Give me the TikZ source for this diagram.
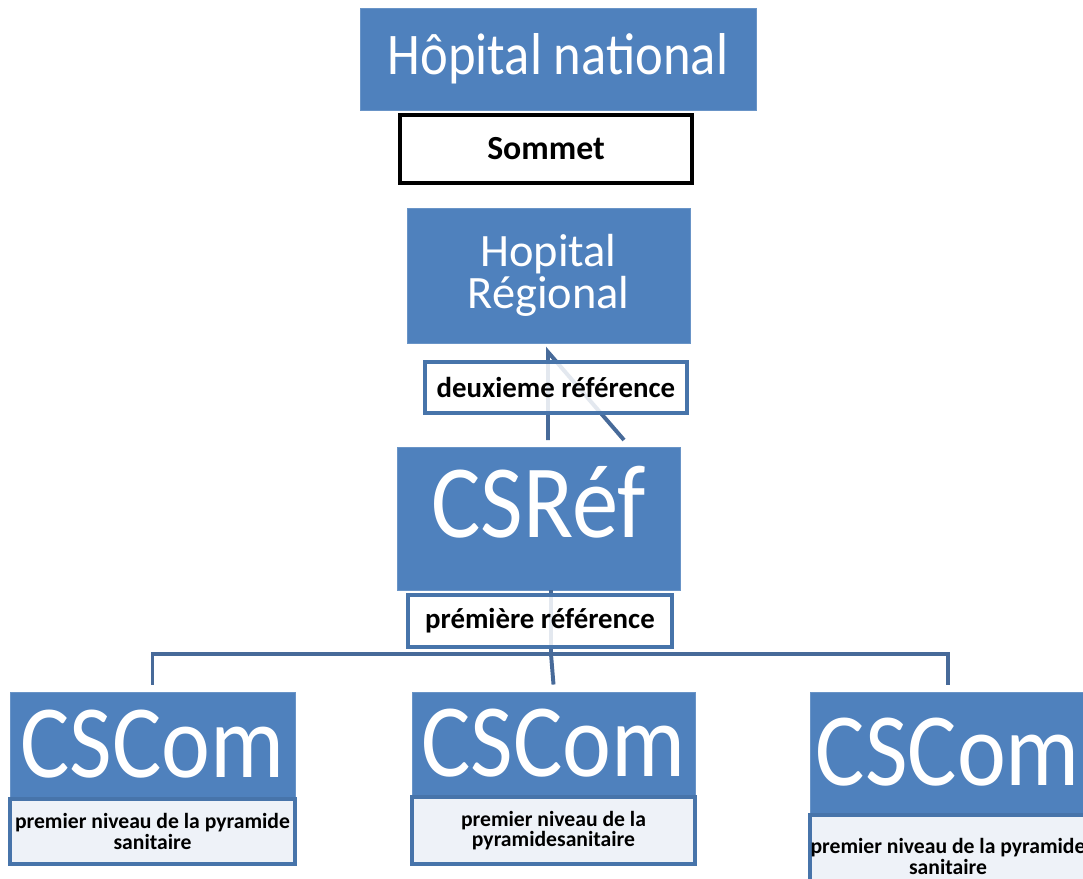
\documentclass[tikz,border=0pt]{standalone}
\usepackage{fontspec}
\setmainfont{Carlito}
\newfontfamily\tallfont{Carlito}[FakeStretch=0.89]
\usetikzlibrary{positioning}
\definecolor{boxblue}{HTML}{4F81BD}
\definecolor{linkblue}{HTML}{476A99}
\definecolor{labfill}{HTML}{EEF2F8}
\newcommand{\pw}[1]{#1*0.025cm}
\tikzset{
  bluebox/.style={fill=boxblue, draw=boxblue!85!white, line width=0.6pt, text=white, inner sep=0pt, align=center},
  refbox/.style={fill=white, fill opacity=0.85, text opacity=1, draw=boxblue!90!black, line width=2.6pt, inner sep=0pt,
    font=\bfseries\fontsize{20.5}{24}\selectfont},
  levelbox/.style={fill=labfill, draw=boxblue!90!black, line width=2.4pt, inner sep=0pt, align=center,
    font=\bfseries\fontsize{15.4}{14.8}\selectfont},
  link/.style={draw=linkblue, line width=2.8pt},
  bigtext/.style={font=\tallfont\fontsize{74}{80}\selectfont}
}
\newcommand{\cscom}[7]{%
  \node[bluebox, bigtext, minimum width=\pw{#4}, minimum height=\pw{#5}] (#1) at (#2,#3) {CSCom};
  \node[levelbox, minimum width=\pw{#4}, minimum height=\pw{#6}, below=0pt of #1] (#1lab) {#7};}

\begin{document}
\begin{tikzpicture}[x=0.025cm, y=-0.025cm]
  \useasboundingbox (0,0) rectangle (1083,879);
  \clip (0,0) rectangle (1083,879);
  \coordinate (tip) at (548,352);
  \coordinate (foot) at (624,440);
  \coordinate (bus) at (551,654);
  \node[bluebox, font=\tallfont\fontsize{42}{46}\selectfont, minimum width=\pw{396}, minimum height=\pw{102}]
    (nat) at (558,59) {Hôpital national};
  \node[fill=white, draw=black, line width=2.6pt, inner sep=0pt, minimum width=\pw{292}, minimum height=\pw{68},
    font=\bfseries\fontsize{24}{28}\selectfont] (sommet) at (546,149) {Sommet};
  \node[bluebox, font=\fontsize{33}{30}\selectfont, minimum width=\pw{283}, minimum height=\pw{135}]
    (reg) at (548.5,275.5) {Hopital\\Régional};
  \draw[link] (tip |- foot) -- (tip) -- (foot);
  \node[refbox, minimum width=\pw{262}, minimum height=\pw{51}] (deux) at (556,387.5) {deuxieme référence};
  \node[bluebox, bigtext, text depth=24pt, minimum width=\pw{283}, minimum height=\pw{143}]
    (csref) at (538.5,518.5) {CSRéf};
  \draw[link] (csref.south -| bus) -- (bus);
  \node[refbox, minimum width=\pw{264}, minimum height=\pw{52}] (prem) at (540,621) {prémière référence};
  \cscom{cl}{152.5}{744.5}{285}{105}{65}{premier niveau de la pyramide\\sanitaire}
  \cscom{cm}{553.5}{743.5}{283}{103}{67}{premier niveau de la\\pyramidesanitaire}
  \cscom{cr}{948}{752.5}{276}{121}{82}{premier niveau de la pyramide\\sanitaire}
  \draw[link] ([yshift=5pt]cl.north) |- (bus) -| ([yshift=5pt]cr.north);
  \draw[link] (bus) -- ([yshift=5pt]cm.north);
\end{tikzpicture}
\end{document}
